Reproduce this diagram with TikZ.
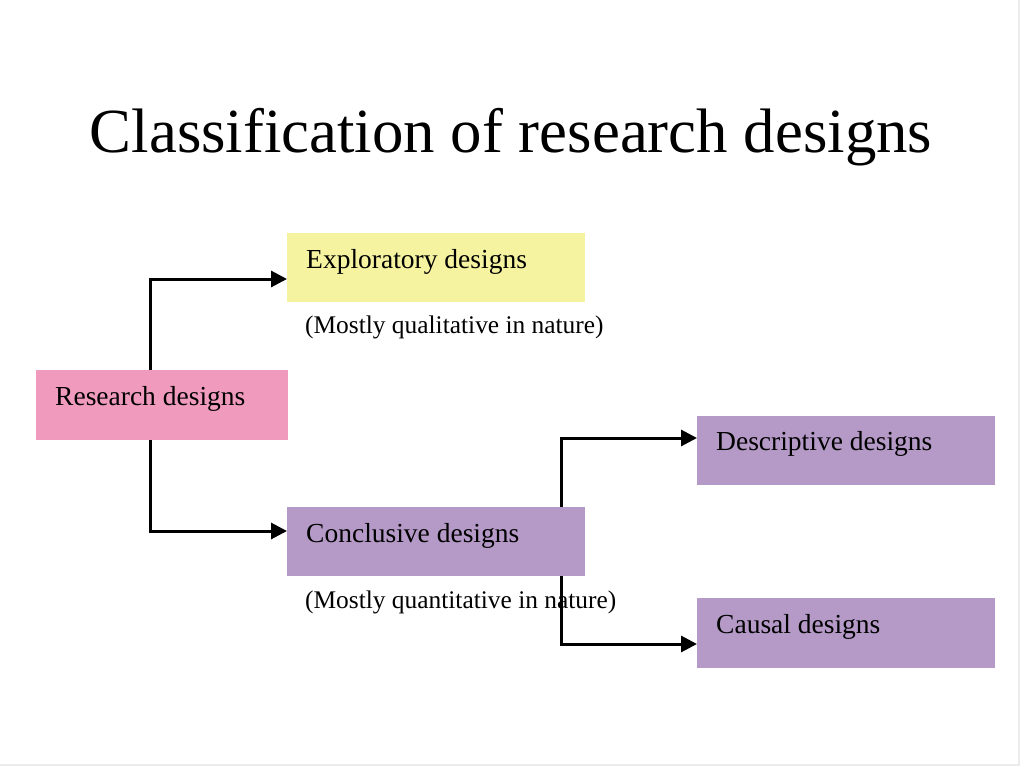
\documentclass[tikz,border=0pt]{standalone}
\usepackage{fontspec}
\setmainfont{Liberation Serif}
\usetikzlibrary{arrows.meta}
\definecolor{yellowc}{RGB}{245,243,160}
\definecolor{pinkc}{RGB}{240,155,190}
\definecolor{purplec}{RGB}{181,153,199}
\tikzset{
  box/.style={draw=none, inner sep=0pt, anchor=north west, minimum width=298pt, minimum height=69pt},
  lbl/.style={inner sep=0pt, anchor=base west, font=\fontsize{27.5}{31}\selectfont},
  note/.style={inner sep=0pt, anchor=base west, font=\fontsize{25.4}{29}\selectfont},
  conn/.style={line width=3pt, -{Triangle[length=16pt,width=16pt]}},
}
\begin{document}
\begin{tikzpicture}[x=1pt,y=-1pt]
\useasboundingbox (0,0) rectangle (1024,767);
\draw[black!8, line width=1.5pt] (1019,0) -- (1019,765) -- (0,765);
\node[inner sep=0pt, anchor=base, font=\fontsize{62.8}{70}\selectfont] (title) at (511,153) {Classification of research designs};
% boxes
\node[box, fill=yellowc] (expl) at (287,233) {};
\node[box, fill=pinkc, minimum width=252pt, minimum height=70pt] (res) at (36,370) {};
\node[box, fill=purplec] (conc) at (287,507) {};
\node[box, fill=purplec] (desc) at (697,416) {};
\node[box, fill=purplec, minimum height=70pt] (caus) at (697,598) {};
% texts
\node[lbl, xshift=19pt, yshift=-35pt] (texpl) at (expl.north west) {Exploratory designs};
\node[lbl, xshift=19pt, yshift=-35pt] (tres) at (res.north west) {Research designs};
\node[lbl, xshift=19pt, yshift=-35pt] (tconc) at (conc.north west) {Conclusive designs};
\node[lbl, xshift=19pt, yshift=-34pt] (tdesc) at (desc.north west) {Descriptive designs};
\node[lbl, xshift=19pt, yshift=-35pt] (tcaus) at (caus.north west) {Causal designs};
\node[note, xshift=18pt, yshift=-31pt] (nqual) at (expl.south west) {(Mostly qualitative in nature)};
\node[note, xshift=18pt, yshift=-32pt] (nquan) at (conc.south west) {(Mostly quantitative in nature)};
% connector anchors
\coordinate (resup) at ([xshift=114pt]res.north west);
\coordinate (resdn) at ([xshift=114pt]res.south west);
\coordinate (explin) at ([yshift=-46pt]expl.north west);
\coordinate (concin) at ([yshift=-24pt]conc.north west);
\coordinate (concup) at ([xshift=274pt]conc.north west);
\coordinate (concdn) at ([xshift=274pt]conc.south west);
\coordinate (descin) at ([yshift=-22pt]desc.north west);
\coordinate (causin) at ([yshift=-46pt]caus.north west);
% connectors
\draw[conn] (resup) |- (explin);
\draw[conn] (resdn) |- (concin);
\draw[conn] (concup) |- (descin);
\draw[conn] (concdn) |- (causin);
\end{tikzpicture}
\end{document}
